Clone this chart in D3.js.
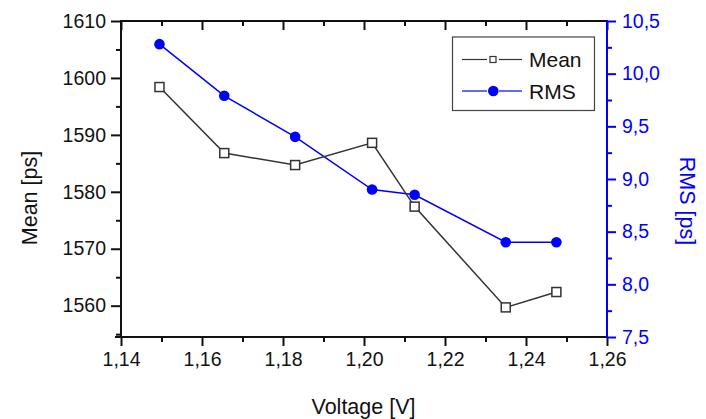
<!DOCTYPE html>
<html>
<head>
<meta charset="utf-8">
<script src="https://cdn.jsdelivr.net/npm/d3@7"></script>
<style>
  body { margin: 0; background: #fff; }
  svg { display: block; font-family: "Liberation Sans", Arial, sans-serif; }
</style>
</head>
<body>
<div id="chart"></div>
<script>
// Data
const voltage = [1.1495, 1.1655, 1.183, 1.202, 1.2125, 1.235, 1.2475];
const meanPs = [1598.4, 1586.8, 1584.7, 1588.6, 1577.4, 1559.7, 1562.4];
const rmsPs = [10.28, 9.79, 9.40, 8.90, 8.85, 8.40, 8.40];

const xTicks = [1.14, 1.16, 1.18, 1.20, 1.22, 1.24, 1.26];
const xMinor = [1.15, 1.17, 1.19, 1.21, 1.23, 1.25];
const meanTicks = [1560, 1570, 1580, 1590, 1600, 1610];
const meanMinor = [1555, 1565, 1575, 1585, 1595, 1605];
const rmsTicks = [7.5, 8.0, 8.5, 9.0, 9.5, 10.0, 10.5];
const rmsMinor = [7.75, 8.25, 8.75, 9.25, 9.75, 10.25];

const width = 706;
const height = 419;
const plotL = 121, plotR = 607, plotT = 21, plotB = 337;
const blue = "#0000ff";
const ink = "#111";

const svg = d3.select("#chart").append("svg").attr("width", width).attr("height", height);

const x = d3.scaleLinear().domain([1.14, 1.26]).range([plotL, plotR]);
const yMean = d3.scaleLinear().domain([1554.5, 1610]).range([plotB, plotT]);
const yRms = d3.scaleLinear().domain([7.5, 10.5]).range([plotB, plotT]);

const comma = f => v => d3.format(f)(v).replace(".", ",");

// draws one axis with major + minor ticks
function drawAxis(axisFn, scale, major, minor, fmt, tx, ty, color, majorLen) {
    const g = svg.append("g").attr("transform", `translate(${tx},${ty})`);
    g.call(axisFn(scale).tickValues(minor).tickSize(5).tickFormat(""));
    const g2 = svg.append("g").attr("transform", `translate(${tx},${ty})`);
    g2.call(axisFn(scale).tickValues(major).tickSize(majorLen).tickPadding(4).tickFormat(fmt));
    [g, g2].forEach(s => {
        s.select(".domain").remove();
        s.selectAll("line").attr("stroke", color).attr("stroke-width", 2);
        s.selectAll("text").attr("fill", color).style("font-size", "19.5px");
    });
    return g2;
}

const gx = drawAxis(d3.axisBottom, x, xTicks, xMinor, comma(".2f"), 0, plotB, ink, 9);
gx.selectAll("text").attr("dy", null).attr("y", 29);
// top mirror ticks, inward
const gt1 = svg.append("g").attr("transform", `translate(0,${plotT})`)
    .call(d3.axisBottom(x).tickValues(xTicks).tickSize(9).tickFormat(""));
const gt2 = svg.append("g").attr("transform", `translate(0,${plotT})`)
    .call(d3.axisBottom(x).tickValues(xMinor).tickSize(5).tickFormat(""));
[gt1, gt2].forEach(s => {
    s.select(".domain").remove();
    s.selectAll("line").attr("stroke", ink).attr("stroke-width", 2);
});

const gl = drawAxis(d3.axisLeft, yMean, meanTicks, meanMinor, d3.format("d"), plotL, 0, ink, 10);
gl.selectAll("text").attr("x", -15);
const gr = drawAxis(d3.axisRight, yRms, rmsTicks, rmsMinor, comma(".1f"), plotR, 0, blue, 9);
gr.selectAll("text").attr("x", 15);

// frame
svg.append("line").attr("x1", plotL - 6).attr("x2", plotR).attr("y1", plotB).attr("y2", plotB)
    .attr("stroke", ink).attr("stroke-width", 2);
svg.append("line").attr("x1", plotL).attr("x2", plotR).attr("y1", plotT).attr("y2", plotT)
    .attr("stroke", ink).attr("stroke-width", 2);
svg.append("line").attr("x1", plotL).attr("x2", plotL).attr("y1", plotT - 1).attr("y2", plotB + 1)
    .attr("stroke", ink).attr("stroke-width", 2);
svg.append("line").attr("x1", plotR).attr("x2", plotR).attr("y1", plotT - 1).attr("y2", plotB + 1)
    .attr("stroke", blue).attr("stroke-width", 2);

// axis titles
svg.append("text").attr("x", (plotL + plotR) / 2 - 0.5).attr("y", 414).attr("text-anchor", "middle")
    .attr("fill", ink).style("font-size", "21.5px").text("Voltage [V]");
svg.append("text").attr("transform", "translate(37,198) rotate(-90)").attr("text-anchor", "middle")
    .attr("fill", ink).style("font-size", "21.5px").text("Mean [ps]");
svg.append("text").attr("transform", "translate(680,201) rotate(90)").attr("text-anchor", "middle")
    .attr("fill", blue).style("font-size", "21.5px").text("RMS [ps]");

// series lines
const meanLine = d3.line().x((d, i) => x(voltage[i])).y(d => yMean(d));
const rmsLine = d3.line().x((d, i) => x(voltage[i])).y(d => yRms(d));

svg.append("path").datum(rmsPs).attr("d", rmsLine).attr("fill", "none")
    .attr("stroke", blue).attr("stroke-width", 1.5);
svg.append("path").datum(meanPs).attr("d", meanLine).attr("fill", "none")
    .attr("stroke", "#333").attr("stroke-width", 1.5);

svg.append("g").selectAll("circle").data(rmsPs).join("circle")
    .attr("cx", (d, i) => x(voltage[i])).attr("cy", d => yRms(d)).attr("r", 5.3)
    .attr("fill", blue);
svg.append("g").selectAll("rect").data(meanPs).join("rect")
    .attr("x", (d, i) => x(voltage[i]) - 4.5).attr("y", d => yMean(d) - 4.5)
    .attr("width", 9).attr("height", 9)
    .attr("fill", "#fff").attr("stroke", "#333").attr("stroke-width", 1.5);

// legend
const lg = svg.append("g");
lg.append("rect").attr("x", 452.5).attr("y", 37).attr("width", 142).attr("height", 73.5)
    .attr("fill", "#fff").attr("stroke", "#444").attr("stroke-width", 1.2);
const legendItems = [
    { name: "Mean", color: "#333", y: 59.5 },
    { name: "RMS", color: blue, y: 91 }
];
legendItems.forEach(it => {
    lg.append("line").attr("x1", 462).attr("x2", 487).attr("y1", it.y).attr("y2", it.y)
        .attr("stroke", it.color).attr("stroke-width", 1.2);
    lg.append("line").attr("x1", 499).attr("x2", 522).attr("y1", it.y).attr("y2", it.y)
        .attr("stroke", it.color).attr("stroke-width", 1.2);
    lg.append("text").attr("x", 529).attr("y", it.y + 7.5).attr("fill", ink)
        .style("font-size", "21px").text(it.name);
});
lg.append("rect").attr("x", 490).attr("y", 56.5).attr("width", 6).attr("height", 6)
    .attr("fill", "#fff").attr("stroke", "#333").attr("stroke-width", 1.2);
lg.append("circle").attr("cx", 493.3).attr("cy", 91).attr("r", 5.3).attr("fill", blue);
</script>
</body>
</html>
